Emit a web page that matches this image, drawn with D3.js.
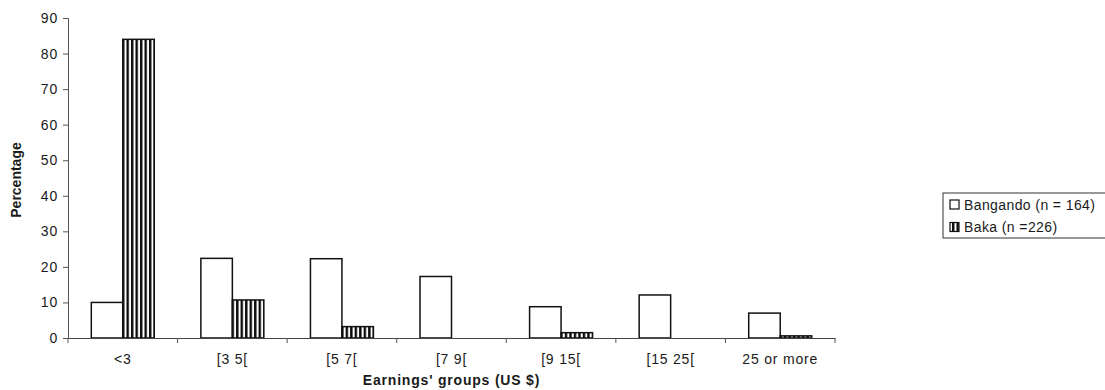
<!DOCTYPE html>
<html>
<head>
<meta charset="utf-8">
<script src="https://cdn.jsdelivr.net/npm/d3@7"></script>
<style>
  html, body { margin: 0; padding: 0; background: #fff; }
  svg { display: block; }
  text { font-family: Arial, "Liberation Sans", sans-serif; fill: #1a1a1a; }
</style>
</head>
<body>
<svg id="chart" width="1105" height="390"></svg>
<script>
const categories = ["<3", "[3 5[", "[5 7[", "[7 9[", "[9 15[", "[15 25[", "25 or more"];
const seriesNames = ["Bangando (n = 164)", "Baka (n =226)"];
const bangando = [10, 22.4, 22.3, 17.3, 8.8, 12.1, 7.0];
const baka = [84, 10.7, 3.2, 0, 1.5, 0, 0.6];
const yTicks = [0, 10, 20, 30, 40, 50, 60, 70, 80, 90];
const yTitle = "Percentage";
const xTitle = "Earnings' groups (US $)";

const svg = d3.select("#chart");
const mLeft = 68, mRight = 835, mTop = 18, mBottom = 338;

const defs = svg.append("defs");
const pat = defs.append("pattern")
  .attr("id", "stripes")
  .attr("patternUnits", "userSpaceOnUse")
  .attr("width", 4.5).attr("height", 10);
pat.append("rect").attr("width", 4.5).attr("height", 10).attr("fill", "#fff");
pat.append("rect").attr("x", 0).attr("width", 2.4).attr("height", 10).attr("fill", "#0a0a0a");

const x = d3.scaleBand().domain(categories).range([mLeft, mRight]).paddingInner(0).paddingOuter(0);
const x1 = d3.scaleBand().domain(seriesNames).range([0, x.bandwidth()]).paddingInner(0).paddingOuter(0.74);
const y = d3.scaleLinear().domain([0, 90]).range([mBottom, mTop]);

// Bars
const data = categories.map((c, i) => ({ cat: c, vals: [bangando[i], baka[i]] }));
const groups = svg.append("g").selectAll("g").data(data).join("g")
  .attr("transform", d => `translate(${x(d.cat)},0)`);
groups.selectAll("rect").data(d => d.vals.map((v, j) => ({ v, s: seriesNames[j], j })))
  .join("rect")
  .attr("x", d => x1(d.s))
  .attr("y", d => y(d.v))
  .attr("width", x1.bandwidth())
  .attr("height", d => y(0) - y(d.v))
  .attr("fill", d => d.j === 0 ? "#fff" : "url(#stripes)")
  .attr("stroke", "#111")
  .attr("stroke-width", 1.5);

// Y axis
const yAxis = d3.axisLeft(y).tickValues(yTicks).tickSize(5).tickPadding(5).tickFormat(d3.format("d"));
const gy = svg.append("g").attr("transform", `translate(${mLeft},0)`).call(yAxis);
gy.select(".domain").attr("stroke", "#555").attr("stroke-width", 1);
gy.selectAll(".tick line").attr("stroke", "#555");
gy.selectAll(".tick text").attr("font-size", 14).attr("letter-spacing", "0.8px")
  .attr("font-family", "Arial, 'Liberation Sans', sans-serif").attr("fill", "#1a1a1a");

// X axis
const xAxis = d3.axisBottom(x).tickSize(0).tickPadding(16);
const gx = svg.append("g").attr("transform", `translate(0,${mBottom})`).call(xAxis);
gx.select(".domain").attr("stroke", "#444").attr("stroke-width", 1);
gx.selectAll(".tick text").attr("font-size", 14).attr("letter-spacing", "0.8px")
  .attr("font-family", "Arial, 'Liberation Sans', sans-serif").attr("fill", "#1a1a1a");
// boundary ticks
const bounds = categories.map(c => x(c)).concat([x(categories[categories.length - 1]) + x.bandwidth()]);
gx.selectAll(".bound").data(bounds).join("line").attr("class", "bound")
  .attr("x1", d => d).attr("x2", d => d).attr("y1", 0).attr("y2", 5)
  .attr("stroke", "#555");

// Titles
svg.append("text")
  .attr("transform", `translate(21,${(mTop + mBottom) / 2 + 2}) rotate(-90)`)
  .attr("text-anchor", "middle")
  .attr("font-size", 14).attr("font-weight", "bold")
  .text(yTitle);
svg.append("text")
  .attr("x", x(categories[3]) + x.bandwidth() / 2)
  .attr("y", 385)
  .attr("text-anchor", "middle")
  .attr("font-size", 14).attr("font-weight", "bold").attr("letter-spacing", "0.8px")
  .text(xTitle);

// Legend
const lg = svg.append("g").attr("transform", "translate(943,193)");
lg.append("rect").attr("x", 0).attr("y", 0).attr("width", 175).attr("height", 45)
  .attr("fill", "#fff").attr("stroke", "#333").attr("stroke-width", 1);
seriesNames.forEach((s, i) => {
  const cy = 11.5 + i * 22.5;
  lg.append("rect").attr("x", 7).attr("y", cy - 4.5).attr("width", 9).attr("height", 9)
    .attr("fill", i === 0 ? "#fff" : "url(#stripes)").attr("stroke", "#111").attr("stroke-width", 1.2);
  lg.append("text").attr("x", 21).attr("y", cy + 5)
    .attr("font-size", 14).attr("letter-spacing", "0.4px").text(s);
});
</script>
</body>
</html>
